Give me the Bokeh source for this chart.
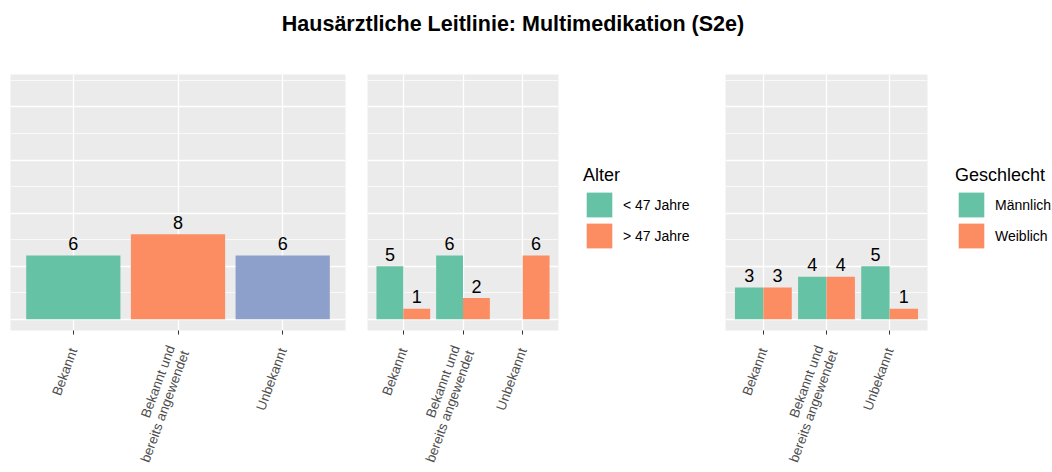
import math
from bokeh.plotting import figure
from bokeh.models import (FactorRange, Range1d, Legend, LegendItem, Div,
                          ColumnDataSource, FixedTicker)
from bokeh.layouts import row, column
from bokeh.transform import dodge
from bokeh.core.properties import value
from bokeh.embed import file_html
from bokeh.resources import INLINE

# ---------------- data ----------------
title_text = "Hausärztliche Leitlinie: Multimedikation (S2e)"
categories = ["Bekannt", "Bekannt und\nbereits angewendet", "Unbekannt"]
total_counts = [6, 8, 6]

alter_title = "Alter"
alter_groups = ["< 47 Jahre", "> 47 Jahre"]
alter_young = [5, 6, 0]
alter_old = [1, 2, 6]

gender_title = "Geschlecht"
gender_groups = ["Männlich", "Weiblich"]
gender_male = [3, 4, 5]
gender_female = [3, 4, 1]

# ---------------- style ----------------
FONT = "Liberation Sans"
GREEN = "#66C2A5"
ORANGE = "#FC8D62"
BLUE = "#8DA0CB"
PANEL_BG = "#EBEBEB"
FIG_H = 404


def make_fig(width, left, right):
    p = figure(width=width, height=FIG_H,
               x_range=FactorRange(*categories, range_padding=0.2 / 3),
               y_range=Range1d(-1.05, 23.05),
               output_backend="svg", toolbar_location=None,
               min_border_left=left, min_border_right=right,
               min_border_top=6, min_border_bottom=0)
    p.background_fill_color = PANEL_BG
    p.border_fill_color = "white"
    p.outline_line_color = None
    p.yaxis.visible = False
    p.ygrid.ticker = FixedTicker(ticks=[0, 5, 10, 15, 20],
                                 minor_ticks=[2.5, 7.5, 12.5, 17.5, 22.5])
    p.ygrid.grid_line_color = "white"
    p.ygrid.grid_line_width = 1.3
    p.ygrid.minor_grid_line_color = "white"
    p.ygrid.minor_grid_line_width = 0.7
    p.xgrid.grid_line_color = "white"
    p.xgrid.grid_line_width = 1.3
    ax = p.xaxis[0]
    ax.axis_line_color = None
    ax.major_tick_line_color = "#333333"
    ax.major_tick_line_width = 1
    ax.major_tick_out = 4
    ax.major_tick_in = 0
    ax.major_label_orientation = math.radians(70)
    ax.major_label_text_font = FONT
    ax.major_label_text_font_size = "13.5px"
    ax.major_label_text_color = "#4D4D4D"
    ax.major_label_text_line_height = 1.0
    ax.major_label_standoff = 14
    return p


def add_labels(p, xs, ys, offset=0.0):
    xs2 = [x for x, y in zip(xs, ys) if y > 0]
    ys2 = [y for y in ys if y > 0]
    src = ColumnDataSource(dict(cat=xs2, val=ys2, txt=[str(v) for v in ys2]))
    p.text(x=dodge("cat", offset, range=p.x_range), y="val", text="txt", source=src,
           text_align="center", text_baseline="middle", y_offset=-12,
           text_font=value(FONT), text_font_size="18px", text_color="black")


def legend_fig(width, groups, series, ltitle, lx):
    # legend-only figure; its proxy bars hold the same series but stay hidden
    f = figure(width=width, height=FIG_H,
               x_range=FactorRange(*categories), y_range=Range1d(0, 1),
               output_backend="svg", toolbar_location=None,
               x_axis_location=None, y_axis_location=None,
               min_border_left=0, min_border_right=0,
               min_border_top=0, min_border_bottom=0)
    f.grid.visible = False
    f.outline_line_color = None
    f.background_fill_color = "white"
    f.border_fill_color = "white"
    rs = []
    for vals, col in zip(series, (GREEN, ORANGE)):
        s = ColumnDataSource(dict(cat=categories, val=vals))
        r = f.vbar(x="cat", top="val", width=0.5, source=s,
                   fill_color=col, line_color=None)
        r.visible = False
        rs.append(r)
    leg = Legend(items=[LegendItem(label=groups[0], renderers=[rs[0]]),
                        LegendItem(label=groups[1], renderers=[rs[1]])],
                 title=ltitle, location=(lx, 79))
    leg.title_text_font = FONT
    leg.title_text_font_size = "18px"
    leg.title_text_font_style = "normal"
    leg.title_text_color = "black"
    leg.title_standoff = 3
    leg.label_text_font = FONT
    leg.label_text_font_size = "14px"
    leg.label_text_color = "black"
    leg.glyph_width = 32
    leg.glyph_height = 31
    leg.label_height = 31
    leg.label_standoff = 8
    leg.spacing = 0
    leg.padding = 0
    leg.margin = 0
    leg.border_line_color = None
    leg.background_fill_alpha = 0
    f.add_layout(leg)
    return f


# ---------------- panel 1 ----------------
p1 = make_fig(360, 10, 15)
src1 = ColumnDataSource(dict(cat=categories, val=total_counts,
                             col=[GREEN, ORANGE, BLUE]))
p1.vbar(x="cat", top="val", bottom=0, width=0.9, source=src1,
        fill_color="col", line_color=None)
add_labels(p1, categories, total_counts)


# ---------------- dodged panels ----------------
def dodged_panel(width, left, right, a_vals, b_vals):
    p = make_fig(width, left, right)
    for vals, off, col in ((a_vals, -0.225, GREEN), (b_vals, 0.225, ORANGE)):
        cats = [c for c, v in zip(categories, vals) if v > 0]
        vv = [v for v in vals if v > 0]
        s = ColumnDataSource(dict(cat=cats, val=vv))
        p.vbar(x=dodge("cat", off, range=p.x_range), top="val", bottom=0,
               width=0.45, source=s, fill_color=col, line_color=None)
        add_labels(p, categories, vals, off)
    return p


p2 = dodged_panel(210, 7, 12, alter_young, alter_old)
l2 = legend_fig(150, alter_groups, (alter_young, alter_old), alter_title, 13)
p3 = dodged_panel(219, 5, 12, gender_male, gender_female)
l3 = legend_fig(113, gender_groups, (gender_male, gender_female), gender_title, 16)

title_div = Div(text=('<div style="width:1026px;text-align:center;font-family:\'Liberation Sans\';'
                      'font-weight:bold;font-size:21.5px;color:black;padding-top:9px;">'
                      + title_text + '</div>'),
                width=1026, height=68, margin=(0, 0, 0, 0))

layout = column(title_div, row(p1, p2, l2, p3, l3, spacing=0), spacing=0)

open("out.html", "w").write(file_html(layout, INLINE))
